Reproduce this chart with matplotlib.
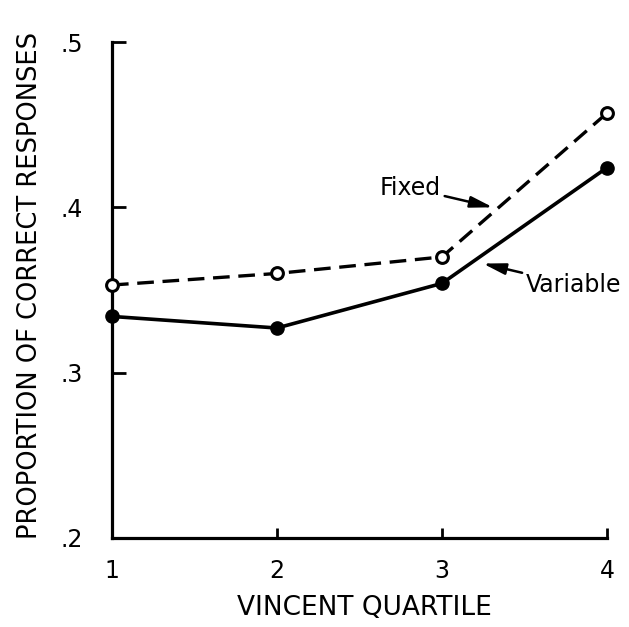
import matplotlib
matplotlib.use("Agg")
import matplotlib.pyplot as plt

quartiles = [1, 2, 3, 4]
fixed = [0.353, 0.360, 0.370, 0.457]
variable = [0.334, 0.327, 0.354, 0.424]
y_ticks = [0.2, 0.3, 0.4, 0.5]
y_ticklabels = [".2", ".3", ".4", ".5"]
x_ticklabels = ["1", "2", "3", "4"]

plt.rcParams['font.family'] = ['DejaVu Sans']

fig = plt.figure(figsize=(6.29, 6.27), dpi=100)
ax = fig.add_axes([0.178, 0.142, 0.787, 0.791])

ax.plot(quartiles, fixed, color='black', lw=2.4, dashes=(5, 2.6),
        marker='o', markersize=8.5, markerfacecolor='white',
        markeredgecolor='black', markeredgewidth=2.2, clip_on=False, zorder=3)
ax.plot(quartiles, variable, color='black', lw=2.6,
        marker='o', markersize=9.5, markerfacecolor='black',
        markeredgecolor='black', clip_on=False, zorder=3)

ax.set_xlim(1, 4)
ax.set_ylim(0.2, 0.5)
ax.set_xticks(quartiles)
ax.set_xticklabels(x_ticklabels)
ax.set_yticks(y_ticks)
ax.set_yticklabels(y_ticklabels)

for side in ['top', 'right']:
    ax.spines[side].set_visible(False)
for side in ['left', 'bottom']:
    ax.spines[side].set_linewidth(2.3)

ax.tick_params(axis='y', direction='in', length=10, width=2, pad=21, labelsize=17)
ax.tick_params(axis='x', direction='in', length=7, width=2, pad=15, labelsize=17)

ax.set_xlabel("VINCENT QUARTILE", fontsize=19)
ax.xaxis.set_label_coords(0.51, -0.115)
ax.set_ylabel("PROPORTION OF CORRECT RESPONSES", fontsize=18.5)
ax.yaxis.set_label_coords(-0.14, 0.51)

arrow = dict(arrowstyle='-|>,head_length=0.8,head_width=0.2', color='black',
             lw=1.8, shrinkA=1, shrinkB=0)
ax.annotate("Fixed", xy=(3.309, 0.400), xytext=(2.806, 0.4117),
            ha='center', va='center', fontsize=17, arrowprops=arrow)
ax.annotate("Variable", xy=(3.248, 0.366), xytext=(3.80, 0.353),
            ha='center', va='center', fontsize=17, arrowprops=arrow,
            annotation_clip=False)

fig.savefig("out.png", dpi=100, facecolor='white')
